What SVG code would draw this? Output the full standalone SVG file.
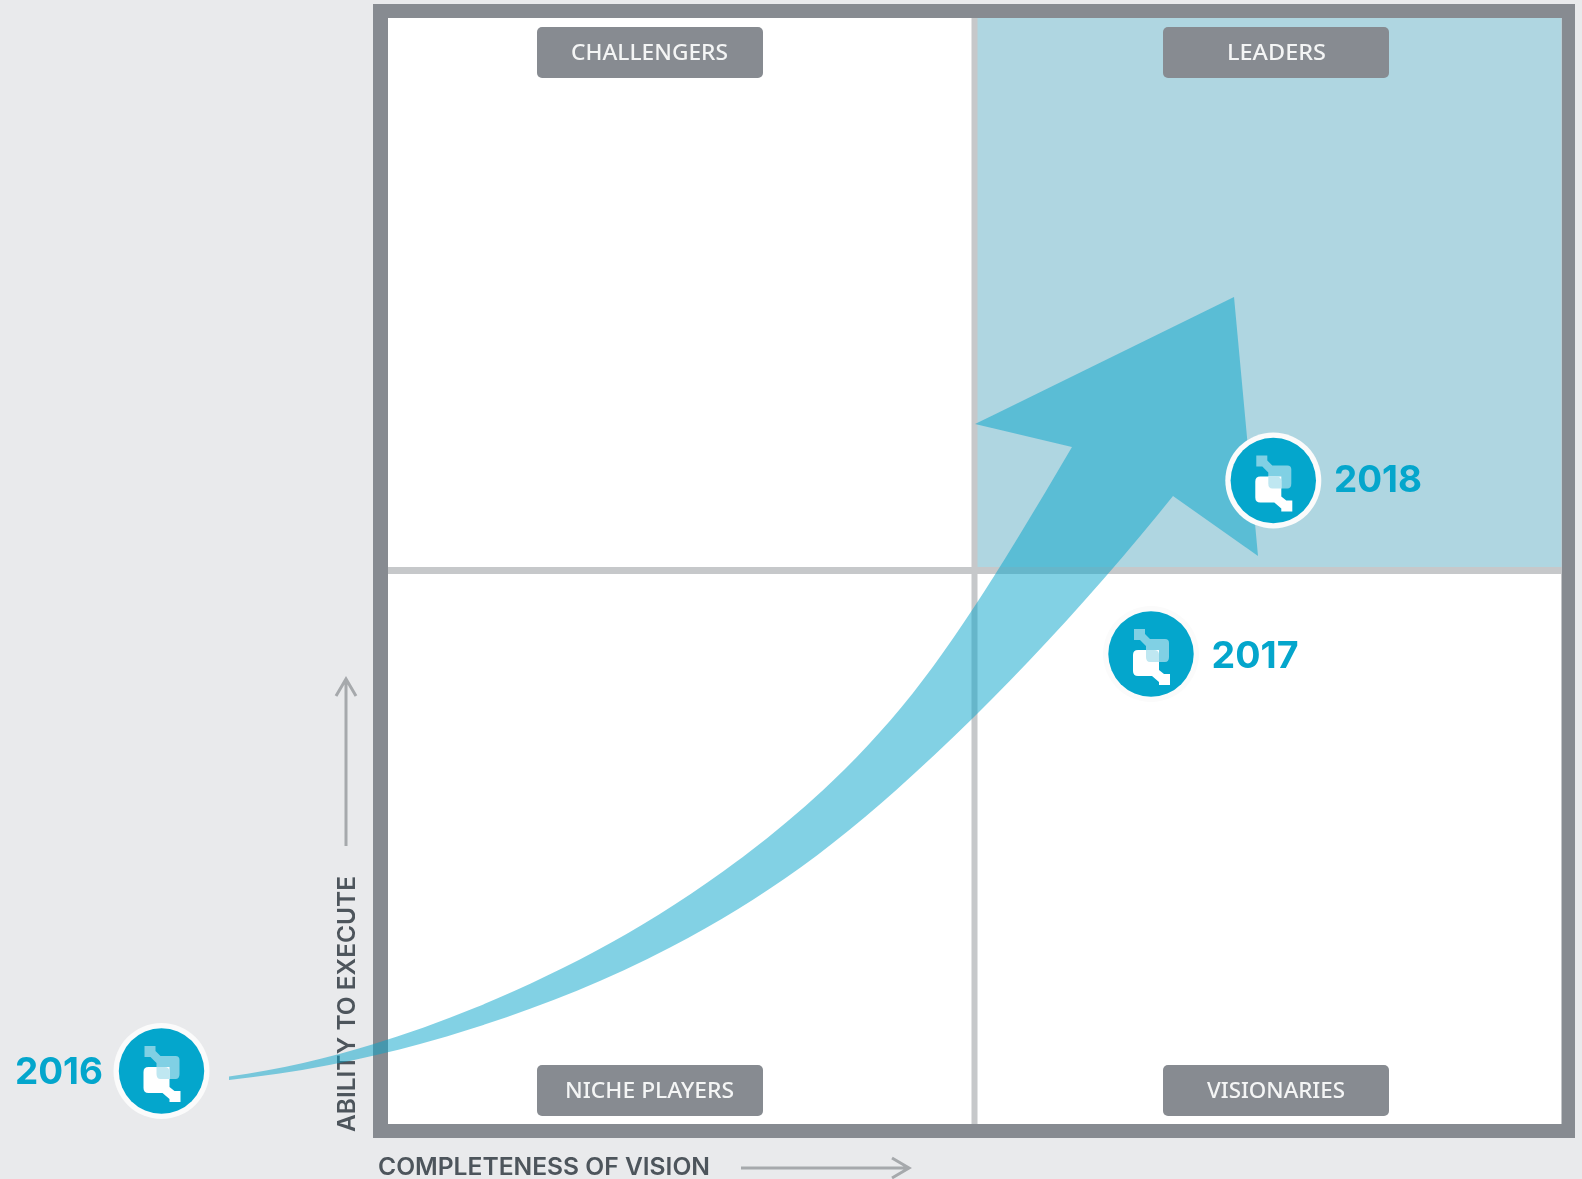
<svg xmlns="http://www.w3.org/2000/svg" width="1582" height="1179" viewBox="0 0 1582 1179">
<style>
.tag{fill:#878b91}
.soft{filter:url(#soft)}
.tagt{font-family:"Noto Sans","Liberation Sans",sans-serif;font-size:21px;fill:#f4f5f5;font-weight:500}
.axis{font-family:"Inter","Liberation Sans",sans-serif;font-size:24px;fill:#4d545b;font-weight:600}
.yr{font-family:"Inter","Liberation Sans",sans-serif;font-size:37px;font-weight:700;fill:#04a6cc}
.ax{fill:none;stroke:#a6a9ac;stroke-width:3}
</style>
<defs>
<filter id="soft" x="-5%" y="-5%" width="110%" height="110%"><feGaussianBlur stdDeviation="0.6"/></filter>
<g id="logo">
<circle r="48" fill="#fbfbfb"/>
<circle r="42.700" fill="#04a6cc"/>
<g class="soft">
<path d="M-17-25H-6V-20L-1-15H14Q18-15 18-11V3Q18 8 14 8H-5V-8L-11-14H-17Z" fill="#80d0e4"/>
<path d="M-13-4H8V16L13 20H19V31H8V28L1 22H-13Q-18 22-18 17V1Q-18-4-13-4Z" fill="#fff"/>
<path d="M-5-4H3Q8-4 8 1V8H-1Q-5 8-5 3Z" fill="#bfe7f1"/>
</g>
</g>
</defs>
<rect width="1582" height="1179" fill="#e9eaec"/>
<g id="matrix">
<rect x="373" y="4" width="1202" height="1134" fill="#878b91"/>
<rect x="388" y="18" width="1173.500" height="1106" fill="#fff"/>
<rect x="977" y="18" width="584.500" height="549" fill="#afd6e1"/>
<rect x="971.500" y="18" width="6" height="1106" fill="#c6c8ca"/>
<rect x="388" y="567" width="1173.500" height="7" fill="#c6c8ca"/>
</g>
<g id="axis-labels" class="soft">
<text class="axis" x="378" y="1175" textLength="332" lengthAdjust="spacingAndGlyphs">COMPLETENESS OF VISION</text>
<text class="axis" transform="translate(355 1132) rotate(-90)" textLength="256" lengthAdjust="spacingAndGlyphs">ABILITY TO EXECUTE</text>
</g>
<g id="connectors">
<path class="ax" d="M741 1168H909M892 1158L909 1168L892 1178"/>
<path class="ax" d="M346 846V680M336 696L346 679L356 696"/>
<path id="growth-arrow" fill="#05a3c9" fill-opacity=".5" d="M229 1076.500C312 1065 394 1041 477 1007C567 970 658 922 748 853C803 811 858 762 913 693C966 626 1019 537 1072 447L975 424L1234 297L1258 556L1173 496C1107 578 1040 652 974 717C938 752 901 787 865 817C800 872 736 913 671 947C606 981 542 1006 477 1027C394 1054 312 1071 229 1080Z"/>
</g>
<g id="challengers"><rect class="tag" x="537" y="27" width="226" height="51" rx="5"/><text class="tagt soft" x="571" y="60" textLength="157" lengthAdjust="spacingAndGlyphs">CHALLENGERS</text></g>
<g id="leaders"><rect class="tag" x="1163" y="27" width="226" height="51" rx="5"/><text class="tagt soft" x="1227" y="60" textLength="99" lengthAdjust="spacingAndGlyphs">LEADERS</text></g>
<g id="niche-players"><rect class="tag" x="537" y="1065" width="226" height="51" rx="5"/><text class="tagt soft" x="565" y="1098" textLength="169" lengthAdjust="spacingAndGlyphs">NICHE PLAYERS</text></g>
<g id="visionaries"><rect class="tag" x="1163" y="1065" width="226" height="51" rx="5"/><text class="tagt soft" x="1207" y="1098" textLength="138" lengthAdjust="spacingAndGlyphs">VISIONARIES</text></g>
<g id="y2016"><use href="#logo" x="161.500" y="1071"/><text class="yr" x="15" y="1084" textLength="88" lengthAdjust="spacingAndGlyphs">2016</text></g>
<g id="y2017"><circle cx="1151" cy="654" r="48" fill="#fff"/><use href="#logo" x="1151" y="654"/><text class="yr" x="1211.500" y="668" textLength="87" lengthAdjust="spacingAndGlyphs">2017</text></g>
<g id="y2018"><use href="#logo" x="1273.300" y="480.500"/><text class="yr" x="1334" y="492" textLength="88" lengthAdjust="spacingAndGlyphs">2018</text></g>
</svg>
